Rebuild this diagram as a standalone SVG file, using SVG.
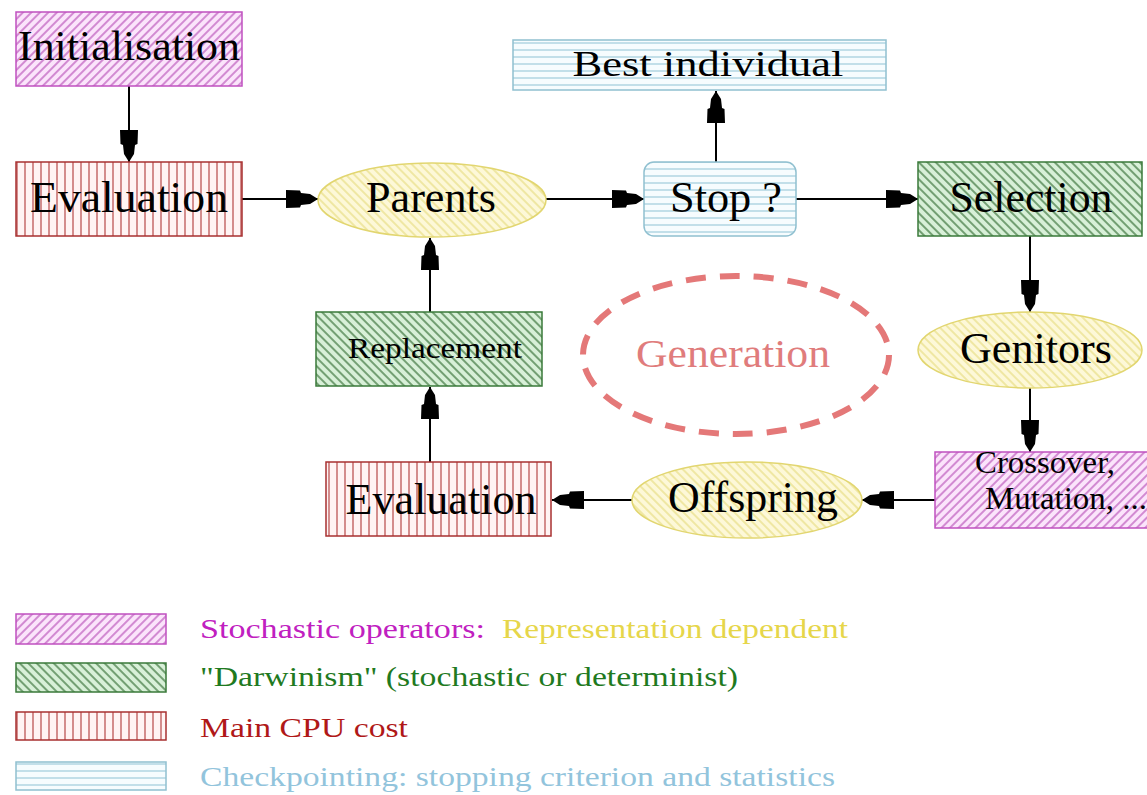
<svg xmlns="http://www.w3.org/2000/svg" width="1147" height="795" viewBox="0 0 1147 795">
<defs>
<pattern id="pMag" patternUnits="userSpaceOnUse" width="6" height="6" patternTransform="rotate(45)">
<rect width="6" height="6" fill="#fbe4fb"/><line x1="1" y1="0" x2="1" y2="6" stroke="#b040b0" stroke-width="1.1"/>
</pattern>
<pattern id="pGrn" patternUnits="userSpaceOnUse" width="6" height="6" patternTransform="rotate(-45)">
<rect width="6" height="6" fill="#d8f0d8"/><line x1="1" y1="0" x2="1" y2="6" stroke="#2f6a2f" stroke-width="1.2"/>
</pattern>
<pattern id="pRed" patternUnits="userSpaceOnUse" width="8" height="8">
<rect width="8" height="8" fill="#fff4f4"/><line x1="1" y1="0" x2="1" y2="8" stroke="#b03838" stroke-width="1.1"/>
</pattern>
<pattern id="pBlu" patternUnits="userSpaceOnUse" width="8" height="7">
<rect width="8" height="7" fill="#f6fcfe"/><line x1="0" y1="1" x2="8" y2="1" stroke="#98c8d8" stroke-width="1.1"/>
</pattern>
<pattern id="pYel" patternUnits="userSpaceOnUse" width="6" height="6" patternTransform="rotate(-45)">
<rect width="6" height="6" fill="#fdf8d8"/><line x1="1" y1="0" x2="1" y2="6" stroke="#e6dc80" stroke-width="1.2"/>
</pattern>
<marker id="arr" markerUnits="userSpaceOnUse" markerWidth="34" markerHeight="20" refX="32" refY="10" orient="auto">
<path d="M0,1 L14,1.5 L15,4 L24,5 L32,10 L24,15 L15,16 L14,18.5 L0,19 Z" fill="#000"/>
</marker>
<style>
.t{font-family:"Liberation Serif","Times New Roman",serif;fill:#000;text-anchor:middle}
.lg{font-family:"Liberation Serif","Times New Roman",serif;font-size:27px}
.mag{fill:url(#pMag);stroke:#c050c0;stroke-width:1.5}
.grn{fill:url(#pGrn);stroke:#3a7a3a;stroke-width:1.5}
.red{fill:url(#pRed);stroke:#a83030;stroke-width:1.5}
.blu{fill:url(#pBlu);stroke:#90c0d0;stroke-width:1.5}
.yel{fill:url(#pYel);stroke:#e2d670;stroke-width:1.5}
.c{stroke:#000;stroke-width:2;fill:none;marker-end:url(#arr)}
</style>
</defs>
<rect width="1147" height="795" fill="#fff"/>

<g id="connectors">
<line class="c" x1="129" y1="86" x2="129" y2="162"/>
<line class="c" x1="242" y1="199" x2="318" y2="199"/>
<line class="c" x1="546" y1="199" x2="644" y2="199"/>
<line class="c" x1="716" y1="162" x2="716" y2="91"/>
<line class="c" x1="796" y1="199" x2="918" y2="199"/>
<line class="c" x1="1030" y1="236" x2="1030" y2="312"/>
<line class="c" x1="1030" y1="388" x2="1030" y2="452"/>
<line class="c" x1="935" y1="500" x2="862" y2="500"/>
<line class="c" x1="632" y1="500" x2="552" y2="500"/>
<line class="c" x1="430" y1="462" x2="430" y2="387"/>
<line class="c" x1="430" y1="312" x2="430" y2="238"/>
</g>

<g id="initialisation">
<rect class="mag" x="16" y="12" width="226" height="74"/>
<text class="t" x="129" y="60" font-size="42" textLength="222" lengthAdjust="spacingAndGlyphs">Initialisation</text>
</g>
<g id="evaluation1">
<rect class="red" x="16" y="162" width="226" height="74"/>
<text class="t" x="129" y="212" font-size="44" textLength="198" lengthAdjust="spacingAndGlyphs">Evaluation</text>
</g>
<g id="parents">
<ellipse class="yel" cx="432" cy="200" rx="114" ry="37"/>
<text class="t" x="431" y="212" font-size="44" textLength="130" lengthAdjust="spacingAndGlyphs">Parents</text>
</g>
<g id="best">
<rect class="blu" x="513" y="40" width="373" height="50"/>
<text class="t" x="708" y="76" font-size="36" textLength="271" lengthAdjust="spacingAndGlyphs">Best individual</text>
</g>
<g id="stop">
<rect class="blu" x="644" y="162" width="152" height="74" rx="10" ry="10"/>
<text class="t" x="726" y="212" font-size="44" textLength="112" lengthAdjust="spacingAndGlyphs">Stop ?</text>
</g>
<g id="selection">
<rect class="grn" x="918" y="162" width="224" height="74"/>
<text class="t" x="1031" y="212" font-size="44" textLength="163" lengthAdjust="spacingAndGlyphs">Selection</text>
</g>
<g id="genitors">
<ellipse class="yel" cx="1030" cy="350" rx="112" ry="38"/>
<text class="t" x="1036" y="363" font-size="44" textLength="152" lengthAdjust="spacingAndGlyphs">Genitors</text>
</g>
<g id="crossover">
<rect class="mag" x="935" y="452" width="214" height="76"/>
<text class="t" x="1045" y="473" font-size="31" textLength="140" lengthAdjust="spacingAndGlyphs">Crossover,</text>
<text class="t" x="1066" y="509" font-size="31" textLength="162" lengthAdjust="spacingAndGlyphs">Mutation, ...</text>
</g>
<g id="offspring">
<ellipse class="yel" cx="747" cy="500" rx="115" ry="38"/>
<text class="t" x="753" y="512" font-size="44" textLength="170" lengthAdjust="spacingAndGlyphs">Offspring</text>
</g>
<g id="evaluation2">
<rect class="red" x="326" y="462" width="225" height="74"/>
<text class="t" x="441" y="514" font-size="44" textLength="191" lengthAdjust="spacingAndGlyphs">Evaluation</text>
</g>
<g id="replacement">
<rect class="grn" x="316" y="312" width="226" height="74"/>
<text class="t" x="435" y="358" font-size="30" textLength="174" lengthAdjust="spacingAndGlyphs">Replacement</text>
</g>
<g id="generation">
<ellipse cx="736" cy="355" rx="153" ry="79" fill="none" stroke="#e47878" stroke-width="6" stroke-dasharray="20 14"/>
<text class="t" x="733" y="367" font-size="40" style="fill:#e07c7c" textLength="194" lengthAdjust="spacingAndGlyphs">Generation</text>
</g>

<g id="legend">
<rect class="mag" x="16" y="614" width="150" height="30"/>
<rect class="grn" x="16" y="663" width="150" height="29"/>
<rect class="red" x="16" y="712" width="150" height="28"/>
<rect class="blu" x="16" y="762" width="150" height="28"/>
<text class="lg" x="200" y="638" fill="#c020c0" textLength="285" lengthAdjust="spacingAndGlyphs">Stochastic operators:</text>
<text class="lg" x="502" y="638" fill="#e6d64a" textLength="346" lengthAdjust="spacingAndGlyphs">Representation dependent</text>
<text class="lg" x="200" y="686" fill="#1f7a1f" textLength="538" lengthAdjust="spacingAndGlyphs">"Darwinism" (stochastic or determinist)</text>
<text class="lg" x="200" y="737" fill="#b01818" textLength="208" lengthAdjust="spacingAndGlyphs">Main CPU cost</text>
<text class="lg" x="200" y="786" fill="#92c4dc" textLength="635" lengthAdjust="spacingAndGlyphs">Checkpointing: stopping criterion and statistics</text>
</g>
</svg>
